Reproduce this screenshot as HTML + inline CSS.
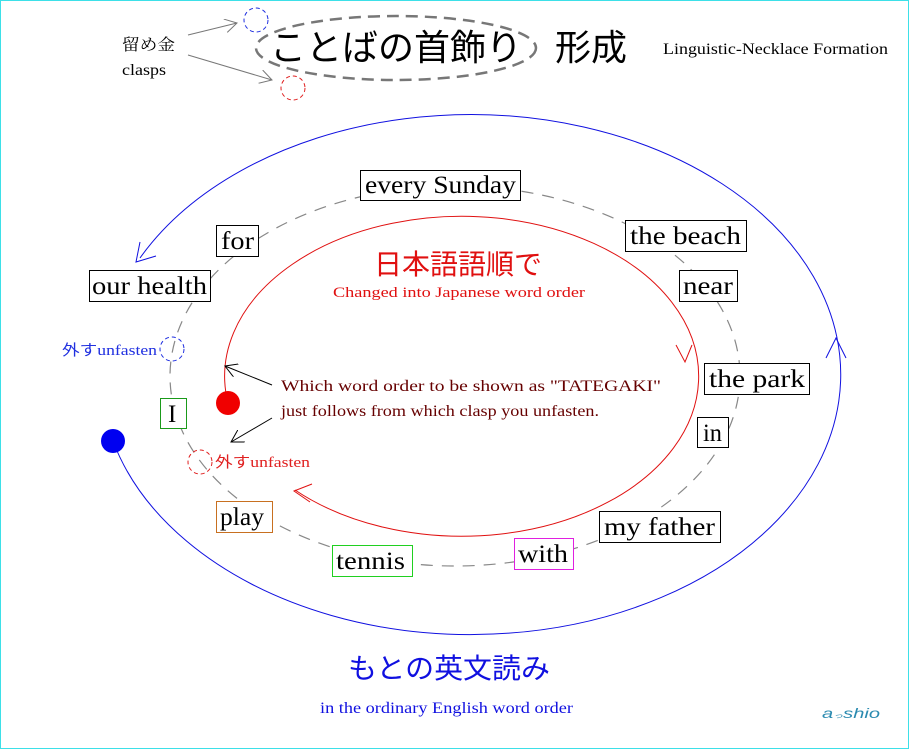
<!DOCTYPE html>
<html><head><meta charset="utf-8"><style>
html,body{margin:0;padding:0;background:#fff}
svg{display:block}
text{font-family:"Liberation Serif","Noto Serif CJK SC",serif}
.j{font-family:"Liberation Sans","Noto Sans CJK JP",sans-serif}
.w{font-size:25px;fill:#000}
</style></head><body>
<svg width="909" height="749" viewBox="0 0 909 749" xmlns="http://www.w3.org/2000/svg">
<rect x="0.5" y="0.5" width="908" height="748" fill="#fff" stroke="#3de0e8" stroke-width="1"/>
<defs>
<marker id="ab" markerWidth="14" markerHeight="14" refX="12" refY="7" orient="auto" markerUnits="userSpaceOnUse"><path d="M0,0 L12,7 L0,14" fill="none" stroke="#000" stroke-width="1"/></marker>
<marker id="ag" markerWidth="14" markerHeight="14" refX="12" refY="7" orient="auto" markerUnits="userSpaceOnUse"><path d="M0,0 L12,7 L0,14" fill="none" stroke="#777" stroke-width="1"/></marker>
</defs>
<text x="122" y="50" font-size="16" style="font-family:'Noto Serif CJK JP',serif" textLength="53" lengthAdjust="spacingAndGlyphs">留め金</text>
<text x="122" y="75" font-size="16" textLength="44" lengthAdjust="spacingAndGlyphs">clasps</text>
<line x1="188" y1="35" x2="237" y2="23" stroke="#777" marker-end="url(#ag)"/>
<line x1="188" y1="55" x2="272" y2="80" stroke="#777" marker-end="url(#ag)"/>
<circle cx="256" cy="20" r="12" fill="none" stroke="#2030e0" stroke-dasharray="4,3"/>
<circle cx="293" cy="88" r="12" fill="none" stroke="#e02020" stroke-dasharray="4,3"/>
<ellipse cx="396" cy="48" rx="140" ry="32" fill="none" stroke="#777" stroke-width="2.5" stroke-dasharray="12,7"/>
<text x="270" y="60" font-size="36" class="j">ことばの首飾り</text>
<text x="555" y="60" font-size="36" class="j">形成</text>
<text x="663" y="54" font-size="16" textLength="225" lengthAdjust="spacingAndGlyphs">Linguistic-Necklace Formation</text>
<!-- blue orbit -->
<path d="M113 441 A370 260 0 1 0 140 258" fill="none" stroke="#1010e0" stroke-width="1"/>
<path d="M140 242 L136 262 L156 256" fill="none" stroke="#1010e0"/>
<path d="M826 358 L836 338 L846 358" fill="none" stroke="#1010e0"/>
<circle cx="113" cy="441" r="12" fill="#0000f0"/>
<ellipse cx="455" cy="376" rx="285" ry="190" fill="none" stroke="#888" stroke-width="1.2" stroke-dasharray="12,9"/>
<path d="M228 403 A237 160 0 1 1 295 490" fill="none" stroke="#e01010" stroke-width="1"/>
<path d="M676 345 L685 362 L692 345" fill="none" stroke="#e01010"/>
<path d="M312 484 L294 491 L310 502" fill="none" stroke="#e01010"/>
<circle cx="228" cy="403" r="12" fill="#f00000"/>
<text x="458" y="274" font-size="28" fill="#e01010" text-anchor="middle" class="j">日本語語順で</text>
<text x="333" y="297" font-size="15" fill="#e01010" textLength="252" lengthAdjust="spacingAndGlyphs">Changed into Japanese word order</text>
<text x="281" y="391" font-size="16" fill="#600" textLength="380" lengthAdjust="spacingAndGlyphs">Which word order to be shown as "TATEGAKI"</text>
<text x="281" y="416" font-size="16" fill="#600" textLength="318" lengthAdjust="spacingAndGlyphs">just follows from which clasp you unfasten.</text>
<line x1="272" y1="385" x2="225" y2="366" stroke="#000" marker-end="url(#ab)"/>
<line x1="272" y1="418" x2="231" y2="442" stroke="#000" marker-end="url(#ab)"/>
<circle cx="172" cy="349" r="12" fill="none" stroke="#2030e0" stroke-dasharray="4,3"/>
<text x="62" y="355" font-size="15" fill="#2030e0" textLength="95" lengthAdjust="spacingAndGlyphs"><tspan class="j">外す</tspan>unfasten</text>
<circle cx="200" cy="462" r="12" fill="none" stroke="#e02020" stroke-dasharray="4,3"/>
<text x="215" y="467" font-size="15" fill="#e02020" textLength="95" lengthAdjust="spacingAndGlyphs"><tspan class="j">外す</tspan>unfasten</text>
<g fill="#fff" stroke-width="1">
<rect x="360.5" y="170.5" width="160" height="30" stroke="#000"/>
<rect x="216.5" y="225.5" width="42" height="31" stroke="#000"/>
<rect x="625.5" y="220.5" width="121" height="31" stroke="#000"/>
<rect x="89.5" y="270.5" width="121" height="31" stroke="#000"/>
<rect x="679.5" y="270.5" width="58" height="31" stroke="#000"/>
<rect x="704.5" y="363.5" width="105" height="31" stroke="#000"/>
<rect x="160.5" y="398.5" width="26" height="30" stroke="#1a9a1a"/>
<rect x="697.5" y="417.5" width="31" height="30" stroke="#000"/>
<rect x="216.5" y="501.5" width="56" height="31" stroke="#c87020"/>
<rect x="599.5" y="511.5" width="121" height="31" stroke="#000"/>
<rect x="514.5" y="538.5" width="59" height="31" stroke="#e020e0"/>
<rect x="332.5" y="545.5" width="80" height="31" stroke="#20d020"/>
</g>
<g class="w" lengthAdjust="spacingAndGlyphs">
<text x="365" y="193" textLength="151" lengthAdjust="spacingAndGlyphs">every Sunday</text>
<text x="221" y="249" textLength="33" lengthAdjust="spacingAndGlyphs">for</text>
<text x="630" y="244" textLength="111" lengthAdjust="spacingAndGlyphs">the beach</text>
<text x="92" y="294" textLength="115" lengthAdjust="spacingAndGlyphs">our health</text>
<text x="683" y="294" textLength="50" lengthAdjust="spacingAndGlyphs">near</text>
<text x="709" y="387" textLength="96" lengthAdjust="spacingAndGlyphs">the park</text>
<text x="168" y="422">I</text>
<text x="703" y="441" textLength="19" lengthAdjust="spacingAndGlyphs">in</text>
<text x="220" y="525" textLength="44" lengthAdjust="spacingAndGlyphs">play</text>
<text x="604" y="535" textLength="111" lengthAdjust="spacingAndGlyphs">my father</text>
<text x="518" y="562" textLength="50" lengthAdjust="spacingAndGlyphs">with</text>
<text x="336" y="569" textLength="69" lengthAdjust="spacingAndGlyphs">tennis</text>
</g>
<text x="348" y="678" font-size="28" fill="#1010e0" class="j" textLength="202" lengthAdjust="spacingAndGlyphs">もとの英文読み</text>
<text x="320" y="713" font-size="16" fill="#1010e0" textLength="253" lengthAdjust="spacingAndGlyphs">in the ordinary English word order</text>
<text x="822" y="718" font-size="14" fill="#2a8ab0" font-style="italic" class="j" textLength="58" lengthAdjust="spacingAndGlyphs">a<tspan font-size="7">っ</tspan>shio</text>
</svg>
</body></html>
